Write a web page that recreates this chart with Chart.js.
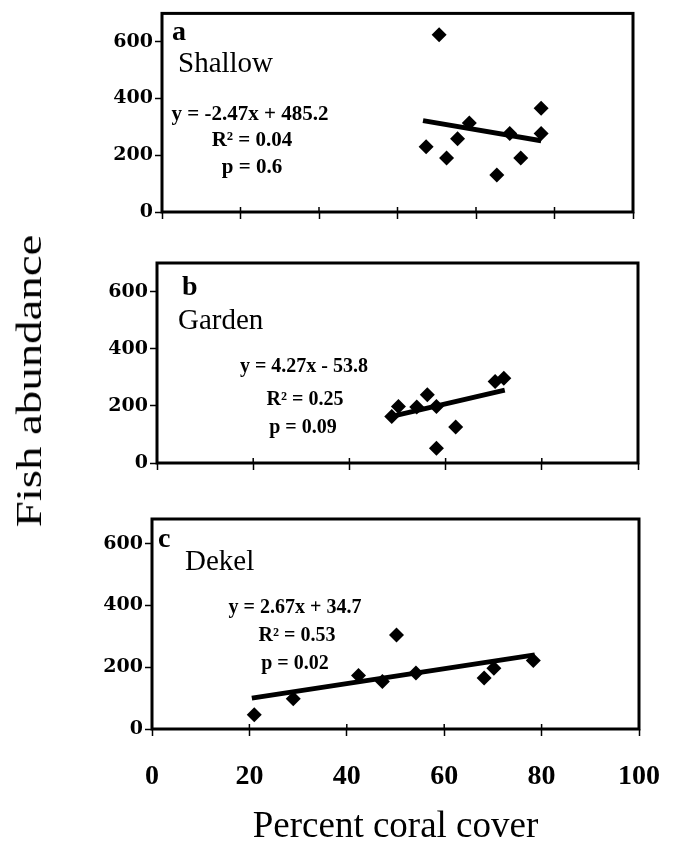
<!DOCTYPE html>
<html>
<head>
<meta charset="utf-8">
<script src="https://cdn.jsdelivr.net/npm/chart.js@4/dist/chart.umd.min.js"></script>
<style>
  body { margin: 0; background: #fff; width: 679px; height: 849px; position: relative; overflow: hidden; font-family: "Liberation Serif", serif; }
  canvas { position: absolute; left: 0; }
  #ytitle { position: absolute; left: 29px; top: 381px; transform: translate(-50%, -50%) rotate(-90deg) scaleX(1.3); font-size: 36px; white-space: nowrap; color: #000; }
</style>
</head>
<body>
<canvas id="panelA" width="679" height="240" style="top:0px"></canvas>
<canvas id="panelB" width="679" height="250" style="top:240px"></canvas>
<canvas id="panelC" width="684" height="359" style="top:490px"></canvas>
<div id="ytitle">Fish abundance</div>
<script>
// a - Shallow
const shallowX = [70.6, 67.3, 72.5, 75.3, 78.3, 85.3, 88.6, 91.4, 96.6, 96.6];
const shallowY = [625, 230, 190, 258, 314, 130, 277, 190, 366, 277];
const shallowFitX = [66.5, 96.6];
const shallowFitY = [322, 251];

// b - Garden
const gardenX = [48.8, 50.2, 54, 56.2, 58.1, 58.1, 62.1, 70.3, 72.1];
const gardenY = [163, 198, 196, 239, 198, 52, 126, 285, 297];
const gardenFitX = [48.8, 72.3];
const gardenFitY = [163, 255];

// c - Dekel
const dekelX = [21, 29, 42.4, 47.3, 50.2, 54.2, 68.2, 70.2, 78.3];
const dekelY = [46, 98, 173, 154, 304, 181, 165, 197, 222];
const dekelFitX = [20.5, 78.6];
const dekelFitY = [100, 240];

const xTickLabels = ['0', '20', '40', '60', '80', '100'];
const yTickLabels = ['0', '200', '400', '600'];

const serif = '"Liberation Serif", "Times New Roman", serif';

const framePlugin = {
  id: 'frame',
  afterDraw(chart, args, opts) {
    const { ctx, chartArea: a, scales } = chart;
    ctx.save();
    ctx.strokeStyle = '#000';
    ctx.lineWidth = 3;
    ctx.strokeRect(a.left, a.top, a.right - a.left, a.bottom - a.top);
    // x ticks cross the axis line
    ctx.lineWidth = 1.5;
    scales.x.ticks.forEach(t => {
      const px = scales.x.getPixelForValue(t.value);
      ctx.beginPath();
      ctx.moveTo(px, a.bottom);
      ctx.lineTo(px, a.bottom - 5);
      ctx.stroke();
    });
    ctx.fillStyle = '#000';
    ctx.textBaseline = 'alphabetic';
    (opts.notes || []).forEach(n => {
      ctx.font = n.font;
      ctx.textAlign = n.align || 'left';
      ctx.fillText(n.text, n.x, n.y);
    });
    ctx.restore();
  }
};

function pairs(xs, ys) {
  return xs.map((x, i) => ({ x: x, y: ys[i] }));
}

function makePanel(id, xs, ys, fx, fy, o) {
  return new Chart(document.getElementById(id), {
    type: 'scatter',
    data: {
      datasets: [
        {
          data: pairs(xs, ys),
          pointStyle: 'rectRot',
          pointRadius: 7.5,
          backgroundColor: '#000',
          borderColor: '#000',
          borderWidth: 0
        },
        {
          type: 'line',
          data: pairs(fx, fy),
          borderColor: '#000',
          borderWidth: 5,
          pointRadius: 0,
          borderCapStyle: 'butt'
        }
      ]
    },
    options: {
      responsive: false,
      animation: false,
      layout: { padding: o.pad },
      plugins: {
        legend: { display: false },
        tooltip: { enabled: false },
        frame: { notes: o.notes }
      },
      scales: {
        x: {
          type: 'linear',
          min: 0,
          max: o.xMax,
          afterFit: s => { s.height = o.xHeight; },
          ticks: {
            stepSize: 20,
            display: o.showX,
            color: '#000',
            padding: 24,
            font: { family: serif, size: 28, weight: 'bold' },
            callback: v => xTickLabels[v / 20] !== undefined ? xTickLabels[v / 20] : ''
          },
          grid: { drawOnChartArea: false, drawTicks: true, tickLength: 7, tickColor: '#000', tickWidth: 1.5 },
          border: { display: false },
          title: {
            display: o.showX,
            text: 'Percent coral cover',
            color: '#000',
            font: { family: serif, size: 37 },
            padding: { top: 0, bottom: 0 }
          }
        },
        y: {
          min: 0,
          max: o.yMax,
          afterFit: s => { s.width = o.yWidth; },
          afterBuildTicks: s => { s.ticks = s.ticks.filter(t => t.value % 200 === 0); },
          ticks: {
            stepSize: 200,
            color: '#000',
            padding: 2,
            font: { family: '"DejaVu Serif", serif', size: 19, weight: 'bold' },
            callback: v => yTickLabels[v / 200]
          },
          grid: { drawOnChartArea: false, drawTicks: true, tickLength: 7, tickColor: '#000', tickWidth: 1.5 },
          border: { display: false }
        }
      }
    },
    plugins: [framePlugin]
  });
}

const boldEq = 'bold 21px ' + serif;
const boldEq2 = 'bold 20px ' + serif;
const letterFont = 'bold 28px ' + serif;
const siteFont = '29px ' + serif;

makePanel('panelA', shallowX, shallowY, shallowFitX, shallowFitY, {
  xMax: 120, yMax: 700, yWidth: 162, xHeight: 28, showX: false,
  pad: { left: 0, right: 46, top: 10, bottom: 0 },
  notes: [
    { text: 'a', x: 172, y: 40, font: letterFont },
    { text: 'Shallow', x: 178, y: 72, font: siteFont },
    { text: 'y = -2.47x + 485.2', x: 250, y: 120, align: 'center', font: boldEq },
    { text: 'R\u00B2 = 0.04', x: 252, y: 146, align: 'center', font: boldEq },
    { text: 'p = 0.6', x: 252, y: 173, align: 'center', font: boldEq }
  ]
});

makePanel('panelB', gardenX, gardenY, gardenFitX, gardenFitY, {
  xMax: 100, yMax: 700, yWidth: 157, xHeight: 27, showX: false,
  pad: { left: 0, right: 41, top: 23, bottom: 0 },
  notes: [
    { text: 'b', x: 182, y: 55, font: letterFont },
    { text: 'Garden', x: 178, y: 89, font: siteFont },
    { text: 'y = 4.27x - 53.8', x: 304, y: 132, align: 'center', font: boldEq2 },
    { text: 'R\u00B2 = 0.25', x: 305, y: 165, align: 'center', font: boldEq2 },
    { text: 'p = 0.09', x: 303, y: 193, align: 'center', font: boldEq2 }
  ]
});

makePanel('panelC', dekelX, dekelY, dekelFitX, dekelFitY, {
  xMax: 100, yMax: 680, yWidth: 152, xHeight: 120, showX: true,
  pad: { left: 0, right: 40, top: 29, bottom: 0 },
  notes: [
    { text: 'c', x: 158, y: 57, font: letterFont },
    { text: 'Dekel', x: 185, y: 80, font: siteFont },
    { text: 'y = 2.67x + 34.7', x: 295, y: 123, align: 'center', font: boldEq2 },
    { text: 'R\u00B2 = 0.53', x: 297, y: 151, align: 'center', font: boldEq2 },
    { text: 'p = 0.02', x: 295, y: 179, align: 'center', font: boldEq2 }
  ]
});
</script>
</body>
</html>
